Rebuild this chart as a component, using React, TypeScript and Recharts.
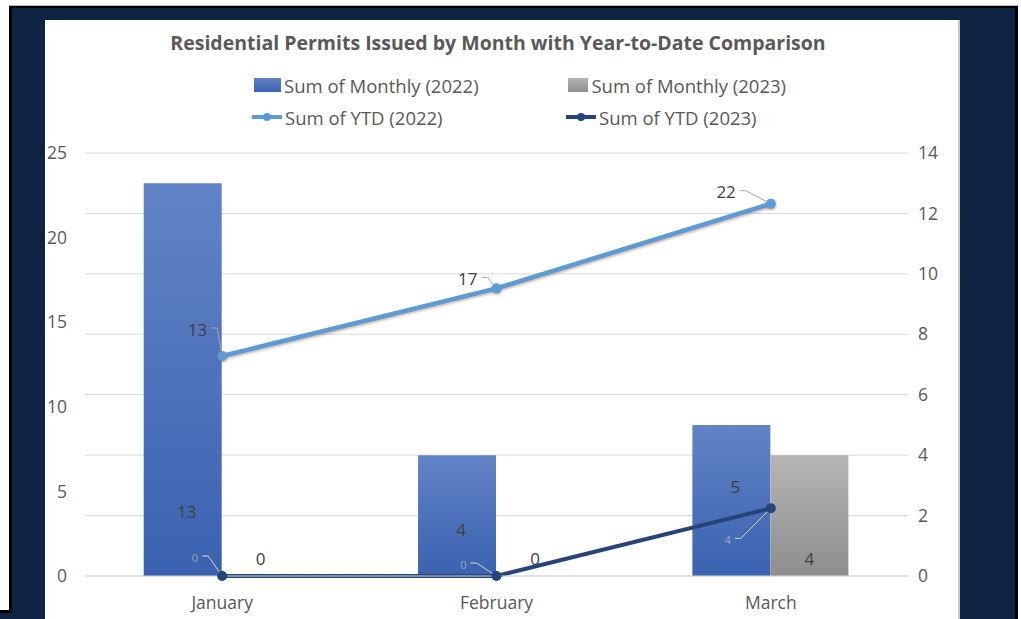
import {
  Bar,
  CartesianGrid,
  ComposedChart,
  LabelList,
  Legend,
  Line,
  XAxis,
  YAxis,
} from "recharts";

const months = ["January", "February", "March"];
const monthly2022 = [13, 4, 5];
const monthly2023 = [0, 0, 4];
const ytd2022 = [13, 17, 22];
const ytd2023 = [0, 0, 4];
const leftTicks = [0, 5, 10, 15, 20, 25];
const rightTicks = [0, 2, 4, 6, 8, 10, 12, 14];

const chartData = months.map((month, i) => ({
  month,
  m2022: monthly2022[i],
  m2023: monthly2023[i],
  y2022: ytd2022[i],
  y2023: ytd2023[i],
}));

// the labels were dragged around by hand in the original, so keep their nudges here
const barLabelLift = [65, 47, 90];
const ytd22LabelShift = [
  [-15, -27],
  [-19, -10],
  [-35, -12],
];
const ytd23LabelShift = [
  [-24, -19],
  [-30, -12],
  [-40, 31],
];

const FONT = "'Open Sans', sans-serif";
const TEXT = "#595959";
const GRID = "#d9d9d9";
const NAVY = "#0f2342";

const legendMarks: Record<string, { kind: string; color: string }> = {
  m2022: { kind: "bar", color: "linear-gradient(#6283c6, #3a62b0)" },
  m2023: { kind: "bar", color: "linear-gradient(#b5b5b5, #8e8e8e)" },
  y2022: { kind: "line", color: "#5b9bd5" },
  y2023: { kind: "line", color: "#264478" },
};

const readBox = (props: any) => {
  const vb = props.viewBox || {};
  return {
    x: vb.x ?? props.x,
    y: vb.y ?? props.y,
    width: vb.width ?? props.width ?? 0,
    height: vb.height ?? props.height ?? 0,
  };
};

const renderMonthly22Label = (props: any) => {
  const { x, y, width, height } = readBox(props);
  const i = props.index ?? 0;
  return (
    <text
      x={x + width / 2 + 4}
      y={y + height - barLabelLift[i]}
      textAnchor="middle"
      dominantBaseline="central"
      fontSize={17}
      fill="#404040"
    >
      {props.value}
    </text>
  );
};

const renderMonthly23Label = (props: any) => {
  const { x, y, width, height } = readBox(props);
  return (
    <text
      x={x + width / 2}
      y={y + height - 18}
      textAnchor="middle"
      dominantBaseline="central"
      fontSize={17}
      fill="#404040"
    >
      {props.value}
    </text>
  );
};

const leader = (tx: number, ty: number, px: number, py: number) => {
  const ex = tx + 10;
  const dx = ex - px;
  const dy = ty - py;
  const len = Math.sqrt(dx * dx + dy * dy) || 1;
  const endX = px + (dx / len) * 5;
  const endY = py + (dy / len) * 5;
  return `${tx + 4},${ty} ${ex},${ty} ${endX},${endY}`;
};

const makeYtdLabel =
  (shift: number[][], fontSize: number, color: string, lineColor: string) =>
  (props: any) => {
    const { x, y } = readBox(props);
    const i = props.index ?? 0;
    const tx = x + shift[i][0];
    const ty = y + shift[i][1];
    return (
      <g>
        <polyline
          points={leader(tx, ty - 1, x, y)}
          fill="none"
          stroke={lineColor}
          strokeWidth={1}
        />
        <text
          x={tx}
          y={ty}
          textAnchor="end"
          dominantBaseline="central"
          fontSize={fontSize}
          fill={color}
        >
          {props.value}
        </text>
      </g>
    );
  };

const renderYtd22Label = makeYtdLabel(ytd22LabelShift, 17, "#404040", "#a6a6a6");
const renderYtd23Label = makeYtdLabel(ytd23LabelShift, 11, "#9aa3b8", "#d0d6e4");

const renderLegend = (props: any) => {
  const payload = props.payload || [];
  return (
    <div
      style={{
        display: "grid",
        gridTemplateColumns: "314px 220px",
        gridAutoRows: "32px",
        fontFamily: FONT,
        fontSize: 18.5,
        color: TEXT,
      }}
    >
      {payload.map((entry: any) => {
        const mark = legendMarks[entry.dataKey] || { kind: "bar", color: entry.color };
        return (
          <div
            key={entry.dataKey}
            style={{ display: "flex", alignItems: "center", whiteSpace: "nowrap" }}
          >
            {mark.kind === "bar" ? (
              <div
                style={{
                  width: 27,
                  height: 14,
                  marginLeft: 2,
                  marginRight: 3,
                  background: mark.color,
                }}
              />
            ) : (
              <svg width={30} height={10} style={{ marginRight: 3 }}>
                <line x1={0} y1={5} x2={30} y2={5} stroke={mark.color} strokeWidth={4} />
                <circle cx={15} cy={5} r={4} fill={mark.color} />
              </svg>
            )}
            <span>{entry.value}</span>
          </div>
        );
      })}
    </div>
  );
};

export default function App() {
  return (
    <div
      style={{
        position: "absolute",
        top: 0,
        left: 0,
        width: 1021,
        height: 619,
        background: "#fff",
        overflow: "hidden",
        fontFamily: FONT,
      }}
    >
      {/* screenshot frame */}
      <div style={{ position: "absolute", left: 9, top: 5, width: 1009, height: 1, background: "#b8b8b8" }} />
      <div style={{ position: "absolute", left: 9, top: 6, width: 1009, height: 620, background: "#000" }} />
      <div style={{ position: "absolute", left: 12, top: 8, width: 1003, height: 620, background: NAVY }} />
      <div style={{ position: "absolute", left: 0, top: 610, width: 12, height: 3, background: "#000" }} />
      <div style={{ position: "absolute", left: 0, top: 613, width: 12, height: 6, background: NAVY }} />
      <div style={{ position: "absolute", left: 45, top: 20, width: 913, height: 610, background: "#fff", borderRight: "2px solid #c8c8c8" }} />

      <div
        style={{
          position: "absolute",
          left: 45,
          top: 29,
          width: 906,
          textAlign: "center",
          fontWeight: 700,
          fontSize: 19.5,
          color: TEXT,
        }}
      >
        Residential Permits Issued by Month with Year-to-Date Comparison
      </div>

      <div style={{ position: "absolute", left: 45, top: 20 }}>
        <ComposedChart
          width={913}
          height={599}
          data={chartData}
          margin={{ top: 133, right: 0, bottom: 0, left: 0 }}
          barCategoryGap="21.4%"
          barGap={0}
        >
          <defs>
            <linearGradient id="blueBar" x1="0" y1="0" x2="0" y2="1">
              <stop offset="0%" stopColor="#6283c6" />
              <stop offset="100%" stopColor="#3a62b0" />
            </linearGradient>
            <linearGradient id="grayBar" x1="0" y1="0" x2="0" y2="1">
              <stop offset="0%" stopColor="#b5b5b5" />
              <stop offset="100%" stopColor="#8e8e8e" />
            </linearGradient>
            <filter id="lineShadow" x="-5%" y="-20%" width="110%" height="160%">
              <feDropShadow dx="0.5" dy="1.5" stdDeviation="0.8" floodColor="#7a5530" floodOpacity="0.45" />
            </filter>
          </defs>
          <CartesianGrid yAxisId="right" vertical={false} stroke={GRID} />
          <XAxis
            dataKey="month"
            axisLine={{ stroke: GRID }}
            tickLine={false}
            tickSize={0}
            tickMargin={21}
            height={43}
            tick={{ fill: TEXT, fontSize: 17.5 }}
          />
          <YAxis
            yAxisId="left"
            orientation="left"
            domain={[0, 25]}
            ticks={leftTicks}
            width={40}
            axisLine={false}
            tickLine={false}
            tickSize={0}
            tickMargin={18}
            tick={{ fill: TEXT, fontSize: 17.5 }}
          />
          <YAxis
            yAxisId="right"
            orientation="right"
            domain={[0, 14]}
            ticks={rightTicks}
            width={50}
            axisLine={false}
            tickLine={false}
            tickSize={0}
            tickMargin={10}
            tick={{ fill: TEXT, fontSize: 17.5 }}
          />
          <Legend
            layout="vertical"
            align="center"
            verticalAlign="middle"
            content={renderLegend}
            wrapperStyle={{ top: 49, left: 207, width: 540, height: 64 }}
          />
          <Bar
            yAxisId="right"
            dataKey="m2022"
            name="Sum of Monthly (2022)"
            fill="url(#blueBar)"
            isAnimationActive={false}
          >
            <LabelList dataKey="m2022" content={renderMonthly22Label} />
          </Bar>
          <Bar
            yAxisId="right"
            dataKey="m2023"
            name="Sum of Monthly (2023)"
            fill="url(#grayBar)"
            minPointSize={0.01}
            isAnimationActive={false}
          >
            <LabelList dataKey="m2023" content={renderMonthly23Label} />
          </Bar>
          <Line
            yAxisId="left"
            dataKey="y2022"
            name="Sum of YTD (2022)"
            stroke="#5b9bd5"
            strokeWidth={4.5}
            filter="url(#lineShadow)"
            dot={{ r: 5, fill: "#5b9bd5", stroke: "#5b9bd5", strokeWidth: 0 }}
            activeDot={false}
            isAnimationActive={false}
          >
            <LabelList dataKey="y2022" content={renderYtd22Label} />
          </Line>
          <Line
            yAxisId="left"
            dataKey="y2023"
            name="Sum of YTD (2023)"
            stroke="#264478"
            strokeWidth={4}
            dot={{ r: 5, fill: "#264478", stroke: "#264478", strokeWidth: 0 }}
            activeDot={false}
            isAnimationActive={false}
          >
            <LabelList dataKey="y2023" content={renderYtd23Label} />
          </Line>
        </ComposedChart>
      </div>
    </div>
  );
}
